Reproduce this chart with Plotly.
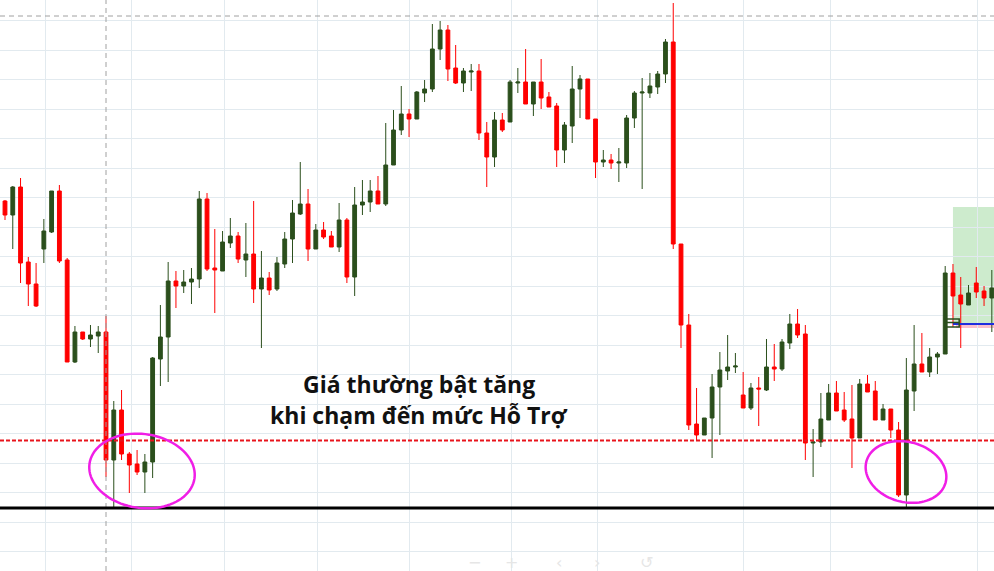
import math
import plotly.graph_objects as go

W, H = 994, 571

# candle index (x) and OHLC prices (points)
idx = list(range(-1, 128))
open_ = [372, 370, 356, 384, 309, 287, 322, 339, 380, 311, 209, 239, 232, 235, 239, 111, 161, 117, 107, 99,
         109, 212, 234, 290, 285, 289, 292, 372, 303, 300, 328, 335, 311, 317, 282, 293, 282, 307, 332, 357,
         367, 322, 341, 335, 324, 351, 294, 366, 369, 380, 367, 406, 441, 457, 452, 478, 482, 522, 541, 503,
         488, 499, 500, 438, 414, 451, 449, 488, 489, 467, 489, 474, 465, 421, 445, 482, 492, 452, 409, 411,
         408, 408, 453, 478, 478, 484, 497, 529, 327, 246, 147, 136, 153, 184, 200, 204, 176, 163, 183, 181,
         204, 202, 228, 247, 237, 128, 129, 151, 178, 161, 152, 133, 187, 180, 151, 162, 141, 76, 180, 207,
         199, 214, 217, 298, 276, 266, 288, 280, 273]
high = [373, 371, 385, 393, 314, 308, 352, 380, 386, 313, 245, 239, 246, 245, 255, 170, 181, 119, 121, 117,
        214, 266, 309, 300, 301, 303, 380, 378, 342, 340, 353, 339, 348, 370, 320, 299, 314, 339, 371, 409,
        382, 347, 349, 340, 368, 353, 384, 391, 391, 395, 448, 461, 485, 462, 480, 491, 547, 550, 546, 526,
        503, 507, 507, 449, 459, 458, 491, 503, 522, 489, 512, 479, 468, 449, 505, 496, 492, 452, 421, 417,
        423, 456, 480, 493, 498, 500, 532, 568, 327, 257, 183, 153, 197, 219, 236, 218, 199, 188, 194, 232,
        227, 232, 257, 262, 246, 142, 178, 187, 190, 179, 186, 192, 196, 190, 167, 162, 149, 213, 246, 238,
        223, 219, 305, 307, 294, 286, 304, 285, 301]
low = [369, 351, 322, 288, 265, 264, 308, 338, 308, 209, 208, 231, 224, 218, 94, 63, 111, 78, 96, 78,
       93, 185, 189, 263, 278, 267, 283, 300, 258, 300, 323, 308, 294, 268, 223, 276, 280, 303, 308, 356,
       310, 322, 332, 324, 319, 288, 275, 356, 359, 367, 365, 406, 436, 434, 452, 469, 479, 511, 490, 487,
       479, 480, 431, 384, 404, 439, 449, 478, 467, 455, 462, 464, 404, 408, 428, 453, 452, 393, 404, 402,
       389, 403, 443, 382, 473, 477, 488, 322, 223, 141, 130, 136, 113, 136, 191, 198, 163, 161, 145, 180,
       190, 200, 222, 233, 111, 94, 124, 151, 160, 149, 103, 133, 179, 151, 151, 133, 74, 63, 160, 199,
       194, 197, 217, 244, 223, 266, 273, 265, 239]
close = [370, 356, 384, 308, 287, 265, 340, 380, 310, 209, 239, 232, 236, 239, 111, 161, 117, 106, 99, 109,
         213, 234, 290, 285, 289, 292, 372, 302, 301, 329, 335, 312, 317, 282, 293, 281, 308, 332, 358, 367,
         322, 341, 334, 324, 351, 294, 366, 369, 380, 367, 406, 441, 457, 452, 479, 482, 522, 541, 502, 488,
         500, 500, 438, 414, 451, 441, 489, 489, 467, 489, 473, 464, 421, 446, 482, 492, 452, 409, 411, 408,
         409, 453, 478, 479, 485, 497, 529, 327, 246, 146, 136, 153, 184, 201, 204, 205, 163, 183, 182, 204,
         202, 229, 247, 236, 128, 129, 152, 178, 160, 151, 133, 187, 179, 151, 162, 141, 76, 181, 207, 199,
         214, 217, 298, 275, 267, 278, 279, 273, 283]

# reference levels (points)
support_level = 63
dotted_level = 130.5
top_level = 555
crosshair_idx = 13
zone_top, zone_bottom = 364, 247
zone_start_idx = 122

# grid positions
x_grid = [5.15, 16.3, 28.3, 40.2, 52.1, 65.2, 76.2, 95.0, 106.2, 125.1]
y_grid = [550.5 - 29.5 * k for k in range(19)]

GREEN = "#2b4f1c"
RED = "#ff0000"
GRID = "#e2eaef"

fig = go.Figure()
fig.add_trace(go.Candlestick(
    x=idx, open=open_, high=high, low=low, close=close,
    increasing=dict(line=dict(color=GREEN, width=1), fillcolor=GREEN),
    decreasing=dict(line=dict(color=RED, width=1), fillcolor=RED),
    whiskerwidth=0, hoverinfo="skip", showlegend=False,
))

X0, X1 = -0.643, 127.28


def px_to_paper(px, py):
    return px / W, 1 - py / H


def ellipse_path(cx, cy, rx, ry, rot_deg, n=90):
    a = math.radians(rot_deg)
    pts = []
    for k in range(n):
        t = 2 * math.pi * k / n
        ex, ey = rx * math.cos(t), ry * math.sin(t)
        px = cx + ex * math.cos(a) - ey * math.sin(a)
        py = cy + ex * math.sin(a) + ey * math.cos(a)
        u, v = px_to_paper(px, py)
        pts.append(f"{u:.5f},{v:.5f}")
    return "M " + " L ".join(pts) + " Z"


shapes = []
# green target zone
shapes.append(dict(type="rect", xref="x", yref="y", x0=zone_start_idx, x1=X1 + 1,
                   y0=zone_bottom, y1=zone_top, fillcolor="rgba(130,205,130,0.40)",
                   line=dict(width=0), layer="below"))
# pink band under blue line
shapes.append(dict(type="rect", xref="x", yref="y", x0=zone_start_idx + 0.4, x1=X1 + 1,
                   y0=zone_bottom - 4, y1=zone_bottom, fillcolor="rgba(248,170,190,0.75)",
                   line=dict(width=0), layer="below"))
# top gray dashed line
shapes.append(dict(type="line", xref="paper", yref="y", x0=0, x1=1, y0=top_level, y1=top_level,
                   line=dict(color="#a0a0a0", width=1, dash="5px,4px")))
# crosshair vertical
shapes.append(dict(type="line", xref="x", yref="paper", x0=crosshair_idx, x1=crosshair_idx, y0=0, y1=1,
                   line=dict(color="#a0a0a0", width=1, dash="5px,4px")))
# red dotted level
shapes.append(dict(type="line", xref="paper", yref="y", x0=0, x1=1, y0=dotted_level, y1=dotted_level,
                   line=dict(color="#e8141c", width=2, dash="4px,2px")))
# black support line
shapes.append(dict(type="line", xref="paper", yref="y", x0=0, x1=1, y0=support_level, y1=support_level,
                   line=dict(color="#000000", width=3)))
# blue entry line
shapes.append(dict(type="line", xref="x", yref="y", x0=zone_start_idx, x1=X1 + 1,
                   y0=zone_bottom, y1=zone_bottom, line=dict(color="#1f2ee0", width=2)))
# small position box
shapes.append(dict(type="rect", xref="x", yref="y", x0=zone_start_idx - 1.0, x1=zone_start_idx + 0.8,
                   y0=zone_bottom - 3, y1=zone_bottom + 5, line=dict(color=GREEN, width=1.5)))
shapes.append(dict(type="line", xref="x", yref="y", x0=zone_start_idx - 1.0, x1=zone_start_idx + 0.8,
                   y0=zone_bottom + 1.5, y1=zone_bottom + 1.5, line=dict(color=GREEN, width=1.5)))
# magenta ellipses
shapes.append(dict(type="path", xref="paper", yref="paper", path=ellipse_path(142, 471, 53, 37, 8),
                   line=dict(color="#f01ee6", width=2.5)))
shapes.append(dict(type="path", xref="paper", yref="paper", path=ellipse_path(906, 472, 41, 30, 15),
                   line=dict(color="#f01ee6", width=2.5)))

annotations = [
    dict(text="Giá thường bật tăng", xref="paper", yref="paper", x=419 / W, y=1 - 382 / H,
         yanchor="middle", yshift=-2,
         showarrow=False, font=dict(family="Open Sans", size=23, color="#111111", weight="bold")),
    dict(text="khi chạm đến mức Hỗ Trợ", xref="paper", yref="paper", x=419 / W, y=1 - 413 / H,
         yanchor="middle", yshift=-2,
         showarrow=False, font=dict(family="Open Sans", size=23, color="#111111", weight="bold")),
]
for sym, px in [("−", 474), ("+", 511), ("‹", 559), ("›", 597), ("↺", 646)]:
    annotations.append(dict(text=sym, xref="paper", yref="paper", x=px / W, y=1 - 558 / H,
                            yanchor="middle", yshift=-4,
                            showarrow=False, font=dict(family="DejaVu Sans", size=16, color="#e6e6e6")))

fig.update_layout(
    width=W, height=H, margin=dict(l=0, r=0, t=0, b=0),
    paper_bgcolor="white", plot_bgcolor="white",
    shapes=shapes, annotations=annotations, showlegend=False,
    xaxis=dict(range=[X0, X1], rangeslider=dict(visible=False), showticklabels=False,
               tickvals=x_grid, showgrid=True, gridcolor=GRID, gridwidth=1, zeroline=False,
               showline=False, ticks=""),
    yaxis=dict(range=[0, H], showticklabels=False, tickvals=y_grid, showgrid=True,
               gridcolor=GRID, gridwidth=1, zeroline=False, showline=False, ticks=""),
    hovermode=False,
)

fig.write_html("out.html", config={"displayModeBar": False, "staticPlot": True},
               post_script="document.body.style.margin='0';document.body.style.overflow='hidden';")
